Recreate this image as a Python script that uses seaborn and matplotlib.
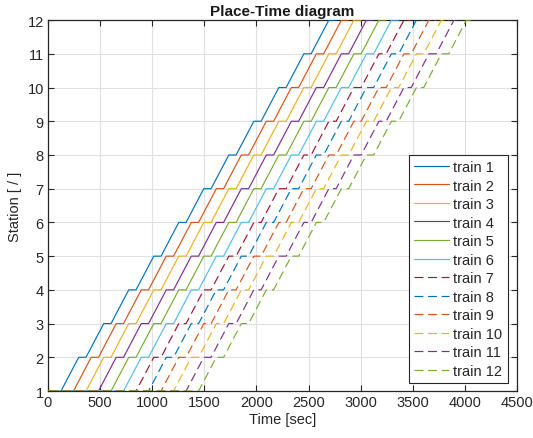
import numpy as np
import pandas as pd
import seaborn as sns
import matplotlib
matplotlib.use("Agg")
import matplotlib.pyplot as plt

# ---- data ----
trains = ["train 1", "train 2", "train 3", "train 4", "train 5", "train 6",
          "train 7", "train 8", "train 9", "train 10", "train 11", "train 12"]
first_departure = [125, 245, 365, 485, 605, 725, 845, 965, 1085, 1205, 1325, 1445]
stations = [1, 2, 3, 4, 5, 6, 7, 8, 9, 10, 11, 12]
run_times = [170, 170, 170, 170, 170, 170, 170, 170, 170, 170, 170]       # between stations
dwell_times = [70, 70, 70, 70, 70, 70, 70, 70, 70, 70, 70]                # at stations 2..12
line_kinds = ["-", "-", "-", "-", "-", "-", "--", "--", "--", "--", "--", "--"]

colors = ["#0072BD", "#D95319", "#EDB120", "#7E2F8E", "#77AC30", "#4DBEEE",
          "#A2142F", "#0072BD", "#D95319", "#EDB120", "#7E2F8E", "#77AC30"]

# build timetable (place-time) table
rows = []
for name, dep in zip(trains, first_departure):
    t = 0
    rows.append((name, t, stations[0]))
    t = dep
    rows.append((name, t, stations[0]))
    for k in range(1, len(stations)):
        t = t + run_times[k - 1]
        rows.append((name, t, stations[k]))
        t = t + dwell_times[k - 1]
        rows.append((name, t, stations[k]))
df = pd.DataFrame(rows, columns=["train", "time", "station"])

sns.set_theme(style="whitegrid")
plt.rcParams["font.family"] = ["Liberation Sans", "DejaVu Sans"]

fig = plt.figure(figsize=(5.33, 4.39), dpi=100)
ax = fig.add_axes([0.090, 0.107, 0.880, 0.845])

for name, col, ls in zip(trains, colors, line_kinds):
    sub = df[df["train"] == name]
    sns.lineplot(data=sub, x="time", y="station", ax=ax, color=col,
                 sort=False, estimator=None, linewidth=0.85, label=name,
                 zorder=3)
    if ls == "--":
        ax.lines[-1].set_dashes((7.5, 4.0))

ax.set_xlim(0, 4500)
ax.set_ylim(1, 12)
ax.set_xticks(np.arange(0, 4501, 500))
ax.set_yticks(np.arange(1, 13, 1))
ax.set_xlabel("Time [sec]", fontsize=10.5, color="#262626", labelpad=2)
ax.set_ylabel("Station [ / ]", fontsize=10.5, color="#262626", labelpad=4)
ax.set_title("Place-Time diagram", fontsize=11, fontweight="bold", pad=4, color="#1a1a1a")

ax.set_facecolor("white")
ax.grid(True, color="#e0e0e0", linewidth=0.8)
for sp in ax.spines.values():
    sp.set_color("#262626")
    sp.set_linewidth(0.9)
    sp.set_visible(True)
ax.tick_params(direction="in", length=4, width=0.8, colors="#262626",
               top=True, right=True, bottom=True, left=True,
               labelsize=10.5, pad=3)

leg = ax.legend(loc="lower right", bbox_to_anchor=(0.98, 0.022),
                fontsize=10.5, frameon=True, fancybox=False, framealpha=1,
                edgecolor="#262626", labelspacing=0.31, handlelength=2.4,
                handletextpad=0.3, borderpad=0.35, borderaxespad=0)
leg.get_frame().set_linewidth(0.8)
for h in leg.get_lines():
    h.set_linewidth(0.85)

fig.savefig("out.png", dpi=100)
